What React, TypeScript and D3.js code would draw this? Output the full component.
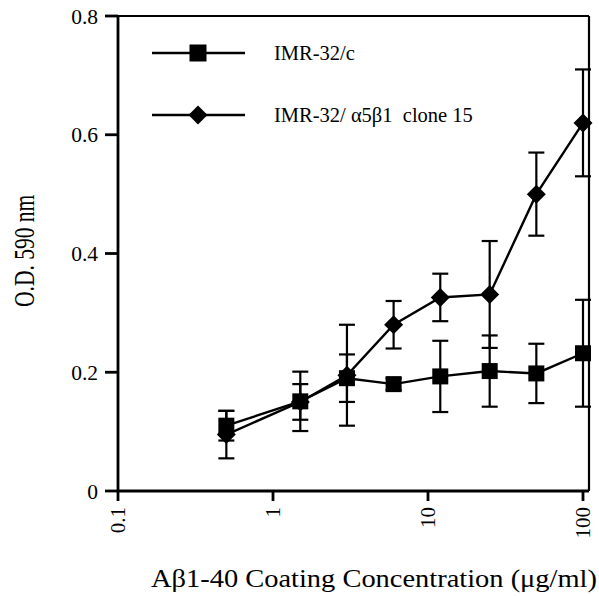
import React from "react";
import * as d3 from "d3";

const concentrations = [0.5, 1.5, 3, 6, 12, 25, 50, 100];
const controlValues = [0.11, 0.151, 0.19, 0.18, 0.193, 0.202, 0.198, 0.232];
const controlErrors = [0.025, 0.05, 0.04, 0.01, 0.06, 0.06, 0.05, 0.09];
const cloneValues = [0.095, 0.15, 0.195, 0.28, 0.326, 0.331, 0.5, 0.62];
const cloneErrors = [0.04, 0.03, 0.085, 0.04, 0.04, 0.09, 0.07, 0.09];
const xTicks = [0.1, 1, 10, 100];
const xTickLabels = ["0.1", "1", "10", "100"];
const yTicks = [0, 0.2, 0.4, 0.6, 0.8];
const yTickLabels = ["0", "0.2", "0.4", "0.6", "0.8"];
const seriesNames = ["IMR-32/c", "IMR-32/ \u03b15\u03b21  clone 15"];

const W = 599;
const H = 596;
const font = "'Liberation Serif', 'Times New Roman', serif";

export default function App() {
  const x = d3.scaleLog().domain([0.1, 100]).range([118, 583]);
  const y = d3.scaleLinear().domain([0, 0.8]).range([491, 16]);
  const line = d3
    .line<[number, number]>()
    .x((d) => x(d[0]))
    .y((d) => y(d[1]));

  const ctrlPts: [number, number][] = concentrations.map((c, i) => [c, controlValues[i]]);
  const clonePts: [number, number][] = concentrations.map((c, i) => [c, cloneValues[i]]);

  const errBars = (vals: number[], errs: number[], key: string) =>
    concentrations.map((c, i) => {
      const cx = x(c);
      const y1 = y(vals[i] + errs[i]);
      const y2 = y(vals[i] - errs[i]);
      return (
        <g key={key + i} stroke="#000" strokeWidth={2.2}>
          <line x1={cx} x2={cx} y1={y1} y2={y2} />
          <line x1={cx - 8} x2={cx + 8} y1={y1} y2={y1} />
          <line x1={cx - 8} x2={cx + 8} y1={y2} y2={y2} />
        </g>
      );
    });

  const sq = 16;
  const dm = 9.5;
  const diamond = (cx: number, cy: number) =>
    `M${cx},${cy - dm}L${cx + dm},${cy}L${cx},${cy + dm}L${cx - dm},${cy}Z`;

  return (
    <svg width={W} height={H} style={{ position: "absolute", left: 0, top: 0 }}>
      <rect width={W} height={H} fill="#fff" />
      {/* frame */}
      <g stroke="#000" fill="none">
        <line x1={118} x2={118} y1={16} y2={491} strokeWidth={2.8} />
        <line x1={118} x2={589} y1={491} y2={491} strokeWidth={2.8} />
        <line x1={118} x2={589} y1={16} y2={16} strokeWidth={2.2} />
        <line x1={589} x2={589} y1={16} y2={491} strokeWidth={2.2} />
      </g>
      {/* y ticks */}
      {yTicks.map((t, i) => (
        <g key={"yt" + i}>
          <line x1={105} x2={118} y1={y(t)} y2={y(t)} stroke="#000" strokeWidth={2.8} />
          <text
            x={98}
            y={y(t)}
            dy="0.35em"
            textAnchor="end"
            fontFamily={font}
            fontSize={21.5}
          >
            {yTickLabels[i]}
          </text>
        </g>
      ))}
      {/* x ticks */}
      {xTicks.map((t, i) => (
        <g key={"xt" + i}>
          <line x1={x(t)} x2={x(t)} y1={491} y2={501} stroke="#000" strokeWidth={2.8} />
          <text
            transform={`translate(${x(t)},507) rotate(-90)`}
            dy="0.35em"
            textAnchor="end"
            fontFamily={font}
            fontSize={21}
          >
            {xTickLabels[i]}
          </text>
        </g>
      ))}
      {/* axis titles */}
      <text
        transform={`translate(34,307) scale(1.35,1) rotate(-90)`}
        textAnchor="start"
        fontFamily={font}
        fontSize={21.5}
      >
        O.D. 590 nm
      </text>
      <text
        x={151}
        y={587}
        fontFamily={font}
        fontSize={26}
        textLength={446}
        lengthAdjust="spacingAndGlyphs"
      >
        A{"\u03b2"}1-40 Coating Concentration ({"\u03bc"}g/ml)
      </text>
      {/* error bars */}
      {errBars(controlValues, controlErrors, "ce")}
      {errBars(cloneValues, cloneErrors, "ke")}
      {/* lines */}
      <path d={line(ctrlPts) || ""} fill="none" stroke="#000" strokeWidth={2.4} />
      <path d={line(clonePts) || ""} fill="none" stroke="#000" strokeWidth={2.4} />
      {/* markers */}
      {ctrlPts.map((p, i) => (
        <rect
          key={"cm" + i}
          x={x(p[0]) - sq / 2}
          y={y(p[1]) - sq / 2}
          width={sq}
          height={sq}
          fill="#000"
        />
      ))}
      {clonePts.map((p, i) => (
        <path key={"km" + i} d={diamond(x(p[0]), y(p[1]))} fill="#000" />
      ))}
      {/* legend */}
      <line x1={152} x2={245} y1={53} y2={53} stroke="#000" strokeWidth={2.4} />
      <rect x={198 - 8.5} y={53 - 8.5} width={17} height={17} fill="#000" />
      <text x={274} y={53} dy="0.35em" fontFamily={font} fontSize={20.5}>
        {seriesNames[0]}
      </text>
      <line x1={152} x2={245} y1={115} y2={115} stroke="#000" strokeWidth={2.4} />
      <path d={diamond(198, 115)} fill="#000" />
      <text x={274} y={115} dy="0.35em" fontFamily={font} fontSize={20.5} style={{ whiteSpace: "pre" }}>
        {seriesNames[1]}
      </text>
    </svg>
  );
}
